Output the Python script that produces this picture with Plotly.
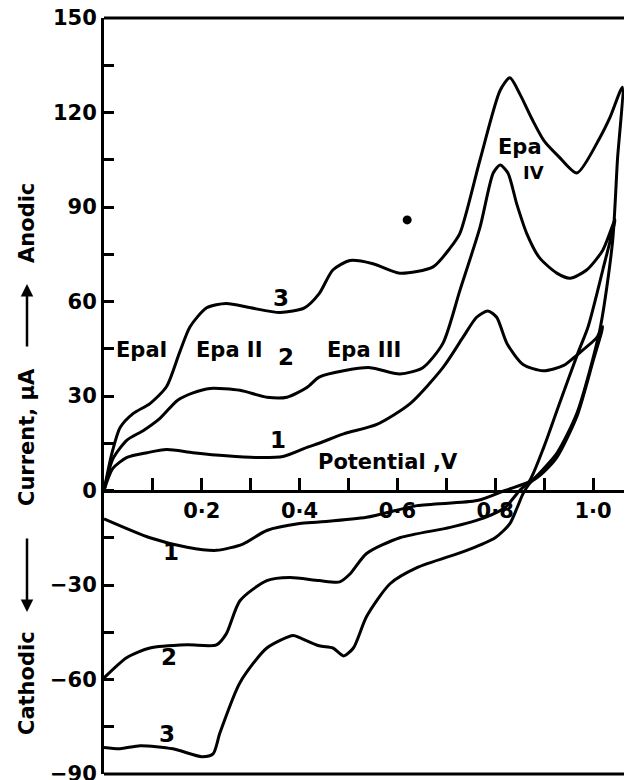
import plotly.graph_objects as go

# ---- data (potential V, current uA) ----
c1_fwd_v = [0, 0.018, 0.047, 0.088, 0.128, 0.182, 0.25, 0.31, 0.366, 0.415, 0.44, 0.49, 0.558, 0.626, 0.693, 0.734, 0.762, 0.785, 0.803, 0.824, 0.857, 0.898, 0.94, 0.967, 1.008, 1.02]
c1_fwd_i = [0, 7, 10.5, 12, 13, 12, 11, 10.5, 10.8, 13.7, 15, 18, 21, 27.6, 39, 48.6, 55, 57, 55, 46.7, 40, 38, 39.7, 43, 48.6, 52]
c1_rev_v = [1.0, 0.967, 0.926, 0.9, 0.877, 0.82, 0.763, 0.64, 0.537, 0.44, 0.4, 0.333, 0.284, 0.23, 0.17, 0.094, 0.0]
c1_rev_i = [41, 23.5, 10.5, 6, 3.2, 0, -3.2, -4.8, -8.5, -10, -10.5, -12.7, -17, -19, -18, -15, -9]

c2_fwd_v = [0, 0.018, 0.047, 0.08, 0.115, 0.15, 0.182, 0.217, 0.278, 0.333, 0.374, 0.415, 0.44, 0.49, 0.544, 0.605, 0.652, 0.693, 0.728, 0.769, 0.796, 0.81, 0.826, 0.844, 0.865, 0.89, 0.926, 0.953, 0.987, 1.02, 1.045]
c2_fwd_i = [0, 10, 16, 19, 23, 28.6, 31, 32.4, 31.8, 29.6, 29.6, 32.7, 36, 38, 39, 37, 39, 46.7, 63.6, 83.6, 100.8, 103.3, 100.8, 91, 81.4, 74, 69, 67.4, 70, 76.3, 86]
c2_rev_v = [1.02, 0.99, 0.97, 0.93, 0.9, 0.87, 0.85, 0.82, 0.78, 0.708, 0.605, 0.537, 0.503, 0.482, 0.44, 0.38, 0.333, 0.278, 0.25, 0.23, 0.17, 0.094, 0.047, 0.0]
c2_rev_i = [70, 52, 44, 27, 14, 3, 0, -5.4, -8.5, -11.7, -15, -20, -26.5, -29, -28.6, -27.6, -28.6, -35, -45.5, -49, -49, -50, -53, -59.5]

c3_fwd_v = [0, 0.016, 0.033, 0.06, 0.094, 0.128, 0.155, 0.176, 0.21, 0.25, 0.30, 0.36, 0.41, 0.44, 0.468, 0.503, 0.55, 0.605, 0.673, 0.708, 0.728, 0.769, 0.81, 0.83, 0.85, 0.875, 0.90, 0.93, 0.967, 1.014, 1.035, 1.06]
c3_fwd_i = [0, 11.7, 20, 24.5, 27.6, 33, 44, 52, 58, 59.4, 58, 56.5, 58, 62.5, 70, 73, 72, 69, 71, 77, 81.7, 105, 127, 131, 126, 118, 111, 106, 100.8, 112, 118.5, 128]
c3_rev_v = [1.05, 1.04, 1.014, 0.967, 0.926, 0.89, 0.87, 0.857, 0.845, 0.83, 0.80, 0.742, 0.64, 0.585, 0.537, 0.51, 0.49, 0.468, 0.44, 0.4, 0.387, 0.333, 0.278, 0.237, 0.223, 0.2, 0.141, 0.074, 0.033, 0.0]
c3_rev_i = [105, 79, 51, 24.5, 11.8, 5.4, 2.2, -1, -5.4, -10.5, -15, -19, -24.5, -29.6, -40, -50, -52.5, -50, -49.3, -46.7, -46, -50, -61, -77, -83.6, -84.5, -82, -81, -82, -81.6]

stray_dot_v = [0.62]
stray_dot_i = [85.9]

y_tick_vals = [-90, -75, -60, -45, -30, -15, 0, 15, 30, 45, 60, 75, 90, 105, 120, 135, 150]
y_tick_text = ["\u221290", "", "\u221260", "", "\u221230", "", "0", "", "30", "", "60", "", "90", "", "120", "", "150"]
x_tick_vals = [0.1, 0.2, 0.3, 0.4, 0.5, 0.6, 0.7, 0.8, 0.9, 1.0]
x_tick_text = ["", "0\u00b72", "", "0\u00b74", "", "0\u00b76", "", "0\u00b78", "", "1\u00b70"]

FONT = "DejaVu Sans"
OFF = 8                      # page body margin of the browser
SCR_L, SCR_T, SCR_B, SCR_R = 104, 18, 774, 632   # plot area on screen
W, H = SCR_R - OFF, 780 - OFF
L, T = SCR_L - OFF, SCR_T - OFF
B = H - (SCR_B - OFF)
PW, PH = W - L, H - T - B

fig = go.Figure()
for fv, fi, rv, ri in [(c1_fwd_v, c1_fwd_i, c1_rev_v, c1_rev_i),
                       (c2_fwd_v, c2_fwd_i, c2_rev_v, c2_rev_i),
                       (c3_fwd_v, c3_fwd_i, c3_rev_v, c3_rev_i)]:
    fig.add_trace(go.Scatter(x=fv + rv, y=fi + ri, mode="lines",
                             line=dict(color="black", width=3, shape="spline", smoothing=0.7),
                             showlegend=False, hoverinfo="skip", cliponaxis=False))
fig.add_trace(go.Scatter(x=stray_dot_v, y=stray_dot_i, mode="markers",
                         marker=dict(color="black", size=9), showlegend=False, hoverinfo="skip"))

fig.update_layout(
    width=W, height=H, plot_bgcolor="white", paper_bgcolor="white",
    margin=dict(l=L, r=0, t=T, b=B),
    font=dict(family=FONT, size=21, color="black"),
    xaxis=dict(range=[0, PW / 489], anchor="free", position=0.375, showline=True,
               linecolor="black", linewidth=3, ticks="inside", ticklen=12, tickwidth=2.5,
               tickcolor="black", tickvals=x_tick_vals, ticktext=x_tick_text,
               showgrid=False, zeroline=False, automargin=False, ticklabeloverflow="allow",
               tickfont=dict(family=FONT, size=21, weight="bold")),
    yaxis=dict(range=[-90, 150], showline=True, linecolor="black", linewidth=3,
               ticks="inside", ticklen=10, tickwidth=2.5, tickcolor="black",
               tickvals=y_tick_vals, ticktext=y_tick_text, showgrid=False, zeroline=False,
               automargin=False, ticklabeloverflow="allow",
               tickfont=dict(family=FONT, size=21, weight="bold")),
    shapes=[
        dict(type="line", xref="paper", yref="paper", x0=0, x1=1, y0=1, y1=1,
             line=dict(color="black", width=3)),
        dict(type="line", xref="paper", yref="paper", x0=0, x1=1, y0=0, y1=0,
             line=dict(color="black", width=3)),
    ],
)

def px_x(px):
    return (px - SCR_L) / PW

def px_y(py):
    return (SCR_B - py) / PH

labels = [
    ("EpaI", 141, 350, 21), ("Epa II", 229, 350, 21), ("Epa III", 364, 350, 21),
    ("Epa", 520, 147, 21), ("IV", 533, 173, 18), ("Potential ,V", 388, 462, 21),
    ("3", 281, 298, 23), ("2", 286, 357, 23), ("1", 278, 440, 23),
    ("1", 171, 552, 23), ("2", 169, 657, 23), ("3", 167, 734, 23),
]
for t, x, y, s in labels:
    fig.add_annotation(xref="paper", yref="paper", x=px_x(x), y=px_y(y), text=t,
                       xanchor="center", yanchor="middle",
                       showarrow=False, font=dict(family=FONT, size=s, weight="bold"))

# y-axis title pieces
for t, y in [("Anodic", 223), ("Current, \u03bcA", 437), ("Cathodic", 683)]:
    fig.add_annotation(xref="paper", yref="paper", x=px_x(27), y=px_y(y), text=t,
                       xanchor="center", yanchor="middle",
                       textangle=-90, showarrow=False,
                       font=dict(family=FONT, size=21, weight="bold"))
fig.add_annotation(xref="paper", yref="paper", x=px_x(27), y=px_y(284), ax=0, ay=64,
                   text="", showarrow=True, arrowhead=2, arrowsize=1, arrowwidth=2.5,
                   arrowcolor="black")
fig.add_annotation(xref="paper", yref="paper", x=px_x(27), y=px_y(612), ax=0, ay=-75,
                   text="", showarrow=True, arrowhead=2, arrowsize=1, arrowwidth=2.5,
                   arrowcolor="black")

fig.write_html("out.html")
